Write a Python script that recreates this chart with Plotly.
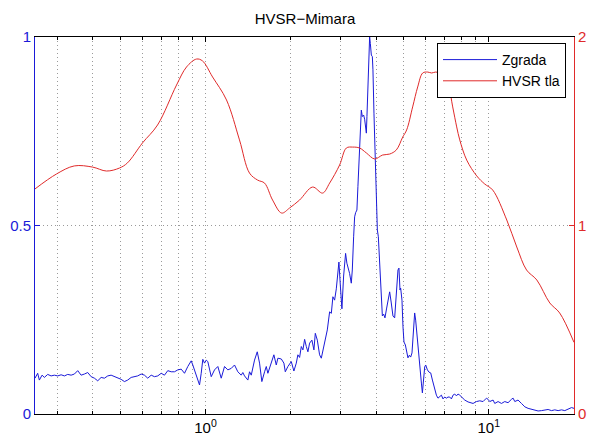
import math
import plotly.graph_objects as go

# Building response (normalised spectral ratio)
blue_freq = [
    0.250, 0.2555, 0.259, 0.2648, 0.2698, 0.2772, 0.285, 0.2927, 0.3007, 0.3091,
    0.3176, 0.3262, 0.3353, 0.3444, 0.3538, 0.3637, 0.3736, 0.3838, 0.3946, 0.4053,
    0.4163, 0.428, 0.4396, 0.4516, 0.4642, 0.4768, 0.4898, 0.5035, 0.5172, 0.5312,
    0.5463, 0.561, 0.576, 0.5926, 0.6087, 0.6254, 0.6429, 0.6604, 0.6783, 0.6974,
    0.7163, 0.7358, 0.7564, 0.777, 0.7982, 0.8206, 0.843, 0.8659, 0.8902, 0.9018,
    0.9146, 0.9393, 0.9524, 0.9656, 0.9783, 0.9919, 1.0057, 1.0189, 1.0475, 1.076,
    1.1053, 1.1363, 1.1672, 1.1991, 1.2326, 1.266, 1.3004, 1.3369, 1.3545, 1.3734,
    1.4108, 1.4305, 1.4504, 1.4897, 1.523, 1.5517, 1.5809, 1.6163, 1.6388, 1.6601,
    1.6833, 1.7071, 1.7433, 1.7776, 1.8011, 1.8516, 1.8912, 1.9127, 1.9537, 2.0084,
    2.0512, 2.0917, 2.119, 2.1488, 2.1788, 2.2073, 2.238, 2.2691, 2.299, 2.331,
    2.3749, 2.414, 2.4414, 2.4817, 2.528, 2.5633, 2.5971, 2.6485, 2.6915, 2.7427,
    2.7808, 2.8169, 2.8561, 2.8958, 2.935, 2.958, 2.992, 3.031, 3.073, 3.098,
    3.123, 3.156, 3.182, 3.226, 3.271, 3.298, 3.334, 3.361, 3.388, 3.424,
    3.452, 3.480, 3.500, 3.529, 3.549, 3.578, 3.616, 3.646, 3.697, 3.715,
    3.745, 3.776, 3.797, 3.819, 3.850, 3.882, 3.901, 3.933, 3.965, 4.011,
    4.043, 4.076, 4.120, 4.177, 4.211, 4.256, 4.301, 4.361, 4.414, 4.469,
    4.523, 4.590, 4.654, 4.719, 4.781, 4.819, 4.860, 4.887, 4.915, 4.939,
    4.980, 5.020, 5.078, 5.131, 5.185, 5.245, 5.301, 5.358, 5.418, 5.476,
    5.521, 5.567, 5.626, 5.705, 5.784, 5.831, 5.880, 5.942, 5.990, 6.074,
    6.153, 6.239, 6.326, 6.408, 6.533, 6.618, 6.712, 6.806, 6.894, 6.990,
    7.087, 7.181, 7.281, 7.383, 7.480, 7.584, 7.690, 7.790, 7.899, 8.010,
    8.115, 8.228, 8.452, 8.570, 8.803, 9.050, 9.294, 9.548, 9.815, 9.943,
    10.08, 10.36, 10.50, 10.79, 11.09, 11.39, 11.70, 12.03, 12.19, 12.36,
    12.69, 13.05, 13.41, 13.77, 14.34, 14.94, 15.36, 15.78, 16.20, 16.66,
    17.11, 17.58, 18.07, 18.56, 19.06, 19.60, 20.0,
]
blue_amp = [
    0.095, 0.108, 0.090, 0.103, 0.097, 0.105, 0.101, 0.103, 0.101, 0.104,
    0.101, 0.105, 0.103, 0.106, 0.115, 0.103, 0.106, 0.110, 0.099, 0.095,
    0.088, 0.097, 0.095, 0.101, 0.103, 0.099, 0.097, 0.092, 0.086, 0.090,
    0.097, 0.098, 0.101, 0.106, 0.103, 0.095, 0.103, 0.099, 0.101, 0.108,
    0.103, 0.115, 0.112, 0.112, 0.117, 0.119, 0.108, 0.126, 0.141, 0.130,
    0.117, 0.090, 0.077, 0.108, 0.145, 0.135, 0.143, 0.139, 0.099, 0.117,
    0.126, 0.095, 0.126, 0.117, 0.121, 0.130, 0.112, 0.103, 0.110, 0.101,
    0.090, 0.112, 0.103, 0.143, 0.165, 0.135, 0.086, 0.112, 0.126, 0.108,
    0.121, 0.135, 0.157, 0.130, 0.148, 0.146, 0.135, 0.112, 0.126, 0.139,
    0.114, 0.135, 0.157, 0.150, 0.179, 0.170, 0.198, 0.179, 0.165, 0.188,
    0.196, 0.170, 0.214, 0.196, 0.157, 0.148, 0.170, 0.205, 0.223, 0.271,
    0.267, 0.311, 0.302, 0.332, 0.378, 0.403, 0.342, 0.279, 0.366, 0.413,
    0.426, 0.400, 0.391, 0.373, 0.347, 0.382, 0.470, 0.523, 0.534, 0.541,
    0.603, 0.665, 0.718, 0.753, 0.806, 0.789, 0.793, 0.782, 0.745, 0.789,
    0.886, 0.966, 1.000, 0.983, 0.952, 0.948, 0.913, 0.798, 0.683, 0.576,
    0.488, 0.470, 0.400, 0.302, 0.260, 0.265, 0.255, 0.281, 0.302, 0.324,
    0.297, 0.260, 0.255, 0.321, 0.382, 0.387, 0.329, 0.334, 0.321, 0.302,
    0.231, 0.191, 0.183, 0.164, 0.149, 0.156, 0.151, 0.162, 0.231, 0.268,
    0.249, 0.215, 0.196, 0.135, 0.082, 0.056, 0.090, 0.125, 0.130, 0.117,
    0.111, 0.109, 0.090, 0.072, 0.050, 0.042, 0.045, 0.050, 0.040, 0.045,
    0.042, 0.045, 0.045, 0.040, 0.050, 0.053, 0.048, 0.053, 0.050, 0.045,
    0.042, 0.037, 0.032, 0.030, 0.028, 0.033, 0.035, 0.033, 0.042, 0.039,
    0.033, 0.037, 0.028, 0.033, 0.028, 0.033, 0.030, 0.039, 0.042, 0.033,
    0.037, 0.028, 0.019, 0.015, 0.011, 0.008, 0.009, 0.011, 0.012, 0.009,
    0.011, 0.009, 0.011, 0.009, 0.012, 0.017, 0.015,
]

# Ground HVSR curve
red_freq = [
    0.25, 0.2975, 0.344, 0.399, 0.447, 0.497, 0.530, 0.599, 0.677, 0.790,
    0.857, 0.929, 0.976, 1.059, 1.186, 1.318, 1.43, 1.527, 1.616, 1.725,
    1.857, 1.981, 2.148, 2.388, 2.591, 2.743, 2.975, 3.142, 3.307, 3.50,
    3.697, 3.955, 4.221, 4.469, 4.719, 4.968, 5.131, 5.387, 5.612, 5.846,
    6.089, 6.290, 6.497, 6.88, 7.222, 7.461, 7.707, 7.90, 8.36, 9.07,
    9.68, 10.33, 11.58, 12.56, 13.6, 14.78, 16.43, 17.8, 20.0,
]
red_amp = [
    1.194, 1.273, 1.316, 1.310, 1.289, 1.305, 1.332, 1.438, 1.533, 1.745,
    1.841, 1.883, 1.873, 1.788, 1.666, 1.454, 1.278, 1.241, 1.225, 1.135,
    1.066, 1.093, 1.135, 1.204, 1.172, 1.225, 1.321, 1.411, 1.416, 1.411,
    1.385, 1.353, 1.374, 1.379, 1.401, 1.469, 1.507, 1.629, 1.735, 1.809,
    1.814, 1.809, 1.814, 1.800, 1.735, 1.629, 1.523, 1.454, 1.347, 1.263,
    1.220, 1.188, 1.029, 0.886, 0.764, 0.711, 0.589, 0.536, 0.380,
]

x_major = [1, 10]
x_major_text = ["10<sup>0</sup>", "10<sup>1</sup>"]
x_minor = [0.3, 0.4, 0.5, 0.6, 0.7, 0.8, 0.9, 2, 3, 4, 5, 6, 7, 8, 9]
left_ticks = [0, 0.5, 1]
left_text = ["0", "0.5", "1"]
right_ticks = [0, 1, 2]
right_text = ["0", "1", "2"]

BLUE = "#1a1ad8"
RED = "#e02a2a"
GRID = "#9a9a9a"
FONT = "Liberation Sans, Arial, sans-serif"

fig = go.Figure()
fig.add_trace(go.Scatter(
    x=blue_freq, y=blue_amp, name="Zgrada", mode="lines",
    line=dict(color=BLUE, width=1),
))
fig.add_trace(go.Scatter(
    x=red_freq, y=red_amp, name="HVSR tla", mode="lines", yaxis="y2",
    line=dict(color=RED, width=1, shape="spline", smoothing=1.0),
))

fig.update_layout(
    template="none",
    width=590, height=439,
    margin=dict(l=35, r=16, t=37, b=25, pad=0, autoexpand=False),
    paper_bgcolor="white", plot_bgcolor="white",
    font=dict(family=FONT, size=14, color="black"),
    title=dict(text="HVSR\u2212Mimara", x=305 / 590, xanchor="center",
               y=1 - 19 / 439, yanchor="middle",
               font=dict(family=FONT, size=15, color="black")),
    xaxis=dict(
        type="log", range=[math.log10(0.25), math.log10(20)],
        automargin=False,
        tickmode="array", tickvals=x_major, ticktext=x_major_text,
        ticks="inside", ticklen=5, tickcolor="black", tickwidth=1,
        showline=True, linecolor="black", linewidth=1, mirror="ticks",
        showgrid=True, gridcolor=GRID, griddash="1px,3px", gridwidth=1,
        tickfont=dict(size=15, color="black"),
        minor=dict(tickmode="array", tickvals=x_minor, ticks="inside",
                   ticklen=3, tickcolor="black", tickwidth=1, showgrid=True,
                   gridcolor=GRID, griddash="1px,3px", gridwidth=1),
        zeroline=False,
    ),
    yaxis=dict(
        range=[0, 1], automargin=False,
        tickmode="array", tickvals=left_ticks, ticktext=left_text,
        ticks="inside", ticklen=5, tickcolor=BLUE, tickwidth=1,
        showline=True, linecolor=BLUE, linewidth=1,
        showgrid=True, gridcolor=GRID, griddash="1px,3px", gridwidth=1,
        zeroline=False, tickfont=dict(size=15, color=BLUE),
    ),
    yaxis2=dict(
        range=[0, 2], overlaying="y", side="right", automargin=False,
        tickmode="array", tickvals=right_ticks, ticktext=right_text,
        ticks="inside", ticklen=5, tickcolor=RED, tickwidth=1,
        showline=True, linecolor=RED, linewidth=1,
        showgrid=False, zeroline=False, tickfont=dict(size=15, color=RED),
    ),
    legend=dict(
        x=(437 - 35) / 539, y=(414 - 43) / 377, xanchor="left", yanchor="top",
        bgcolor="white", bordercolor="black", borderwidth=1,
        font=dict(family=FONT, size=14, color="black"),
        itemwidth=54,
    ),
    showlegend=True,
)

fig.write_html("out.html")
